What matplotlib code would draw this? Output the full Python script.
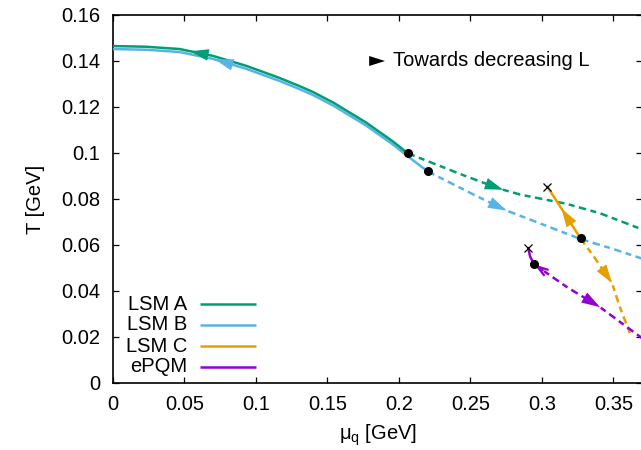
import numpy as np
import matplotlib
matplotlib.use("Agg")
import matplotlib.pyplot as plt
from matplotlib.patches import FancyArrowPatch

plt.rcParams['font.family'] = ['Liberation Sans', 'DejaVu Sans']
plt.rcParams['mathtext.fontset'] = 'custom'
plt.rcParams['mathtext.rm'] = 'Liberation Sans'
plt.rcParams['mathtext.default'] = 'regular'

# ---------------- data ----------------
series_names = ["LSM A", "LSM B", "LSM C", "ePQM"]
series_colors = ["#009e73", "#56b4e9", "#e69f00", "#9400d3"]

# LSM A
A_solid_x = [0.0, 0.0233, 0.0466, 0.070, 0.0932, 0.1166, 0.1308, 0.1399, 0.1541,
             0.1774, 0.196, 0.2061]
A_solid_y = [0.1465, 0.1462, 0.1452, 0.1422, 0.1379, 0.1326, 0.1290, 0.1265, 0.1219,
             0.1131, 0.1049, 0.0999]
A_dash_x = [0.2061, 0.224, 0.2473, 0.262, 0.273, 0.285, 0.2986, 0.3173, 0.3406, 0.37]
A_dash_y = [0.0999, 0.0955, 0.0898, 0.0864, 0.0840, 0.0819, 0.0802, 0.0779, 0.0738, 0.0668]

# LSM B
B_solid_x = [0.0, 0.0233, 0.0466, 0.070, 0.0932, 0.1166, 0.1308, 0.1399, 0.1541,
             0.1774, 0.196, 0.2061, 0.2201]
B_solid_y = [0.1452, 0.1449, 0.1439, 0.1409, 0.1366, 0.1313, 0.1277, 0.1252, 0.1206,
             0.1118, 0.1036, 0.0986, 0.0920]
B_dash_x = [0.2201, 0.2357, 0.2552, 0.2752, 0.2986, 0.327, 0.3497, 0.37]
B_dash_y = [0.0920, 0.0871, 0.0810, 0.0750, 0.0694, 0.0626, 0.0583, 0.0541]

# LSM C
C_solid_x = [0.3039, 0.3155, 0.327]
C_solid_y = [0.0853, 0.0741, 0.0629]
C_dash_x = [0.327, 0.3357, 0.349, 0.3545, 0.3615]
C_dash_y = [0.0629, 0.0555, 0.0435, 0.0330, 0.0217]

# ePQM
P_solid_x = [0.2904, 0.2918, 0.2946]
P_solid_y = [0.0586, 0.0549, 0.0516]
P_dash_x = [0.2946, 0.3175, 0.3406, 0.37]
P_dash_y = [0.0516, 0.0417, 0.0330, 0.0195]

xticks = [0, 0.05, 0.1, 0.15, 0.2, 0.25, 0.3, 0.35]
yticks = [0, 0.02, 0.04, 0.06, 0.08, 0.1, 0.12, 0.14, 0.16]

# ---------------- figure ----------------
W, H = 641, 450
fig = plt.figure(figsize=(W / 100, H / 100), dpi=100)
L, R, T, B = 113, 642, 15, 383
ax = fig.add_axes([L / W, (H - B) / H, (R - L) / W, (B - T) / H])
ax.set_xlim(0, 0.37)
ax.set_ylim(0, 0.16)

lw = 1.8
dash = (0, (3.0, 1.8, 2.4, 1.8))
FS = 14.5

solids = [(A_solid_x, A_solid_y), (B_solid_x, B_solid_y),
          (C_solid_x, C_solid_y), (P_solid_x, P_solid_y)]
dashes = [(A_dash_x, A_dash_y), (B_dash_x, B_dash_y),
          (C_dash_x, C_dash_y), (P_dash_x, P_dash_y)]

order = [1, 0, 2, 3]
for i in order:
    c = series_colors[i]
    ax.plot(*solids[i], color=c, lw=lw, solid_joinstyle='round', zorder=3)
    ax.plot(*dashes[i], color=c, lw=lw, linestyle=dash, zorder=3)


def head(xs, ys, x_tip, x_tail, color, style='-|>', scale=14):
    xt, yt = x_tip, np.interp(x_tip, xs, ys)
    xb, yb = x_tail, np.interp(x_tail, xs, ys)
    arr = FancyArrowPatch((xb, yb), (xt, yt),
                          arrowstyle=style + ',head_length=0.95,head_width=0.3',
                          mutation_scale=scale, color=color,
                          lw=0 if style == '-|>' else 1.6,
                          shrinkA=0, shrinkB=0, zorder=4)
    ax.add_patch(arr)


# arrows (towards decreasing L)
head(A_solid_x, A_solid_y, 0.054, 0.064, series_colors[0])
head(B_solid_x, B_solid_y, 0.0713, 0.081, series_colors[1])
head(A_dash_x, A_dash_y, 0.273, 0.262, series_colors[0])
head(B_dash_x, B_dash_y, 0.2752, 0.265, series_colors[1])
head(C_solid_x, C_solid_y, 0.3137, 0.3185, series_colors[2])
head(C_dash_x, C_dash_y, 0.349, 0.3446, series_colors[2])
head(P_dash_x, P_dash_y, 0.3406, 0.3300, series_colors[3])
head(P_dash_x, P_dash_y, P_dash_x[0], P_dash_x[0] + 0.006, series_colors[3],
     style='->', scale=8)

# black dots at the solid/dashed junctions
for i in range(4):
    ax.plot(dashes[i][0][0], dashes[i][1][0], 'o', color='black', ms=5.5, zorder=6)
# crosses at the end of the solid branches of C and ePQM
for i in (2, 3):
    ax.plot(solids[i][0][0], solids[i][1][0], 'x', color='black', ms=5.5, mew=0.9,
            zorder=6)

# ticks / spines
ax.set_xticks(xticks)
ax.set_yticks(yticks)
ax.set_xticklabels(['%g' % v for v in xticks])
ax.set_yticklabels(['%g' % v for v in yticks])
ax.tick_params(direction='in', length=4.5, width=0.9, top=True, right=True,
               labelsize=FS, colors='black')
ax.tick_params(axis='x', pad=9)
ax.tick_params(axis='y', pad=9)
for s in ax.spines.values():
    s.set_linewidth(1.2)

ax.set_xlabel(r'μ$_{q}$ [GeV]', fontsize=FS, labelpad=6)
ax.set_ylabel('T [GeV]', fontsize=FS, labelpad=12)

# legend (gnuplot style: right-aligned text, then line sample)
aw, ah = R - L, B - T
rows_px = [304, 325, 346, 367]
for i, ypx in enumerate(rows_px):
    fy = (B - ypx) / ah
    ax.text((187 - L) / aw, fy, series_names[i], transform=ax.transAxes,
            ha='right', va='center', fontsize=FS)
    ax.plot([(200 - L) / aw, (256 - L) / aw], [fy, fy], color=series_colors[i],
            lw=lw, transform=ax.transAxes, solid_capstyle='butt')

# "Towards decreasing L" key
fy = (B - 61) / ah
ax.add_patch(FancyArrowPatch(((370 - L) / aw, fy), ((385 - L) / aw, fy),
                             transform=ax.transAxes,
                             arrowstyle='-|>,head_length=0.95,head_width=0.3',
                             mutation_scale=12, color='black', lw=0,
                             shrinkA=0, shrinkB=0))
ax.text((393 - L) / aw, fy, 'Towards decreasing L', transform=ax.transAxes,
        ha='left', va='center', fontsize=FS)

fig.savefig('out.png', dpi=100)
